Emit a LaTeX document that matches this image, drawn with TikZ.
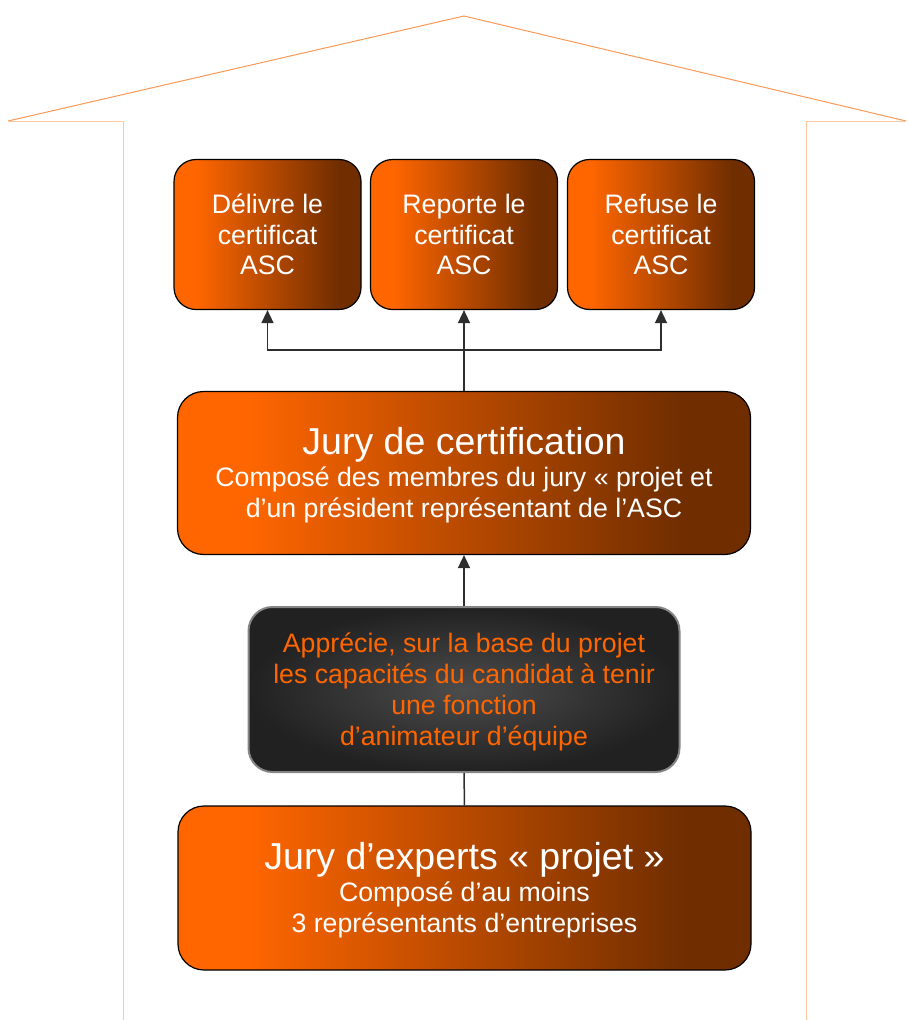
\documentclass[tikz,border=0pt]{standalone}
\usepackage{fontspec}
\setmainfont{Liberation Sans}
\usetikzlibrary{arrows.meta}
% struts for first and last text lines
\newcommand{\topline}{\rule{0pt}{26pt}}
\newcommand{\botline}{\rule[-7pt]{0pt}{7pt}}
\newcommand{\titleline}[1]{{\fontsize{37.5}{30.5}\selectfont\rule{0pt}{33pt}#1}}

\begin{document}
\begin{tikzpicture}[x=1pt,y=-1pt,
    box/.style={draw=black,line width=1.2pt,rounded corners=22pt,shading=kBar,
      text=white,align=center,font=\fontsize{26.7}{30.5}\selectfont\lineskiplimit-40pt},
    darkbox/.style={draw=kEdge,line width=2pt,rounded corners=24pt,inner color=kMid,
      outer color=kDark,text=kOrange,align=center,font=\fontsize{26.7}{30.8}\selectfont\lineskiplimit-40pt},
    link/.style={draw=kGrey,line width=1.5pt},
    arr/.style={link,-{Triangle[length=13pt,width=12pt]}}]
  % colors
  \definecolor{kOrange}{rgb}{1.0,0.40,0.0}
  \definecolor{kBrown}{rgb}{0.44,0.18,0.0}
  \definecolor{kRoof}{rgb}{0.98,0.60,0.34}
  \definecolor{kWall}{rgb}{1.0,0.78,0.62}
  \definecolor{kDark}{rgb}{0.13,0.13,0.13}
  \definecolor{kMid}{rgb}{0.30,0.30,0.30}
  \definecolor{kEdge}{rgb}{0.52,0.52,0.52}
  \definecolor{kGrey}{rgb}{0.18,0.18,0.18}
  \pgfdeclarehorizontalshading{kBar}{100bp}{color(0bp)=(kOrange); color(31bp)=(kOrange); color(69bp)=(kBrown); color(100bp)=(kBrown)}
  \useasboundingbox (0,0) rectangle (909,1020);
  % house
  \draw[kRoof,line width=1pt] (8,121) -- (464,16) -- (906,121);
  \draw[kWall,line width=1pt] (8,121) -- (123,121) -- (123,1020);
  \draw[kWall,line width=1pt] (906,121) -- (806,121) -- (806,1020);
  % decisions
  \node[box,minimum width=187pt,minimum height=150pt] (del) at (267.5,234.5) {\topline D\'elivre le\\certificat\\ASC\botline};
  \node[box,minimum width=187pt,minimum height=150pt] (rep) at (464,234.5) {\topline Reporte le\\certificat\\ASC\botline};
  \node[box,minimum width=187pt,minimum height=150pt] (ref) at (661,234.5) {\topline Refuse le\\certificat\\ASC\botline};
  % juries
  \node[box,rounded corners=26pt,minimum width=573pt,minimum height=163pt] (jury) at (464,473)
    {\titleline{Jury de certification}\\[1.5pt]Compos\'e des membres du jury « projet et\\d’un pr\'esident repr\'esentant de l’ASC\botline};
  \node[darkbox,minimum width=431pt,minimum height=165pt] (eval) at (464,689.5)
    {\topline Appr\'ecie, sur la base du projet\\les capacit\'es du candidat \`a tenir\\une fonction\\d’animateur d’\'equipe\botline};
  \node[box,rounded corners=26pt,minimum width=573pt,minimum height=164pt] (experts) at (464.5,888)
    {\titleline{Jury d’experts « projet »}\\[1.5pt]Compos\'e d’au moins\\3 repr\'esentants d’entreprises\botline};
  % links
  \coordinate (split) at (464,350);
  \draw[link] (jury.north) -- (split);
  \draw[arr] (split) -- (rep.south);
  \draw[arr] (split) -| (del.south);
  \draw[arr] (split) -| (ref.south);
  \draw[arr] (eval.north) -- (jury.south);
  \draw[link] (experts.north) -- (eval.south);
\end{tikzpicture}
\end{document}
